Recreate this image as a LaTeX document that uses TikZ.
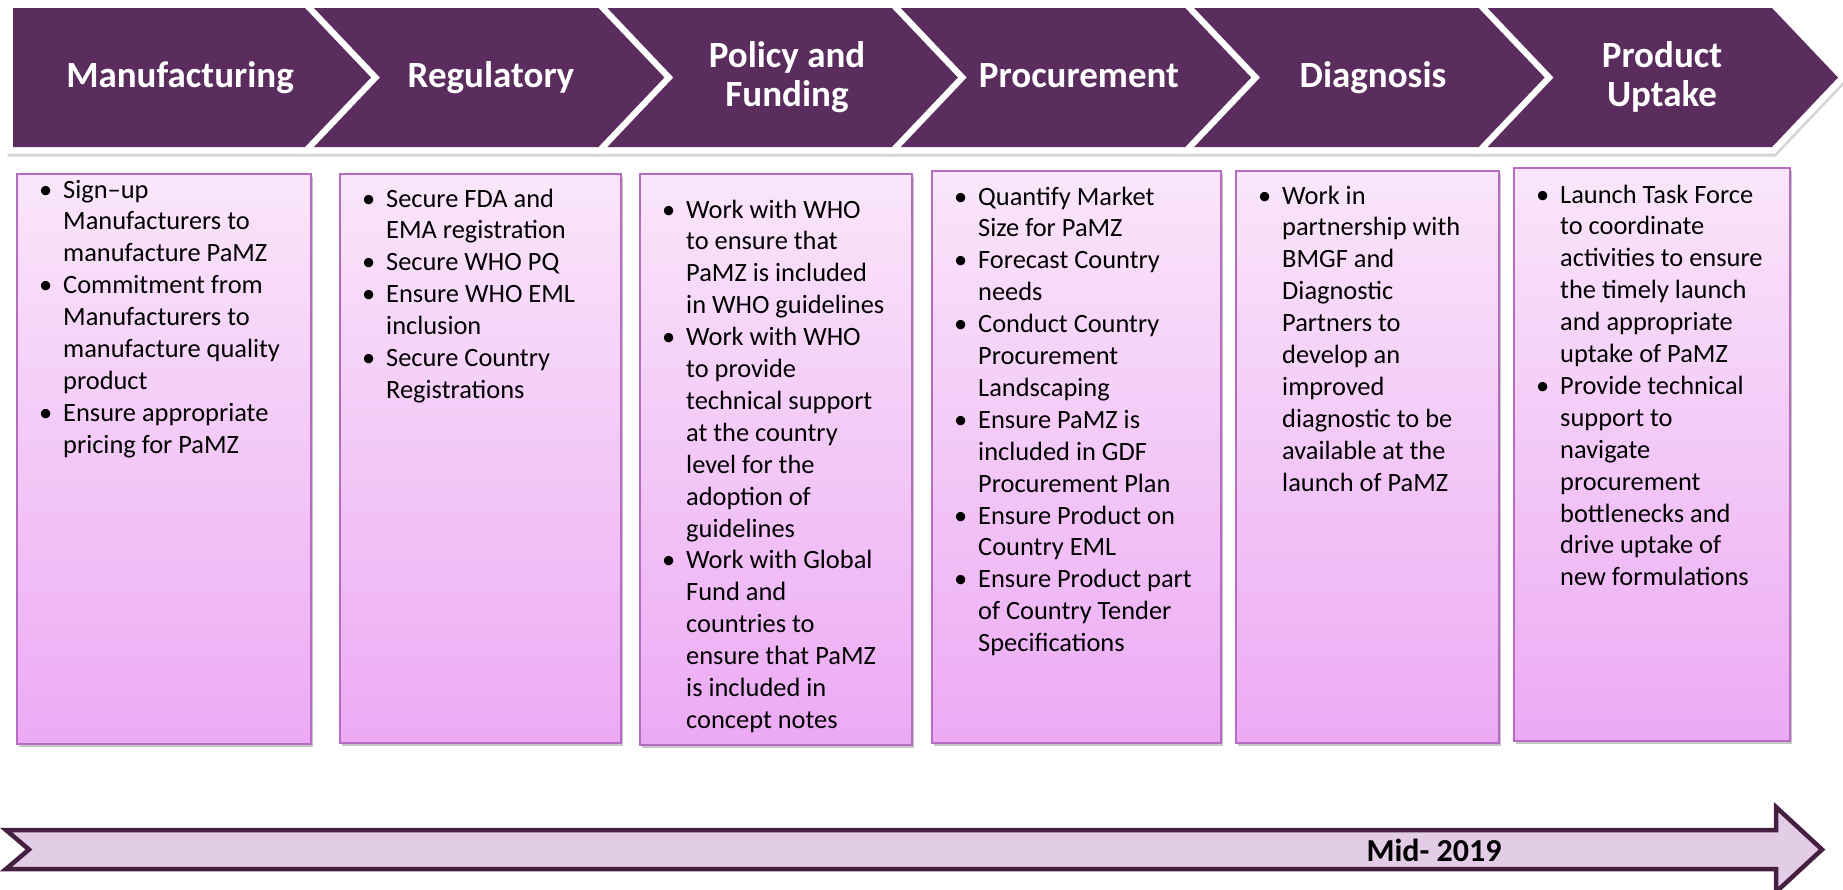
\documentclass[tikz,border=0pt]{standalone}
\usepackage{fontspec}
\setmainfont{Carlito}
\usetikzlibrary{shadows}

\definecolor{chevfill}{RGB}{91,45,94}
\definecolor{chevshade}{RGB}{214,214,214}
\definecolor{boxedge}{RGB}{182,108,194}
\definecolor{boxtop}{RGB}{250,230,250}
\definecolor{boxbot}{RGB}{236,170,244}
\definecolor{arrowedge}{RGB}{70,32,64}
\definecolor{arrowfill}{RGB}{227,204,230}

\newcommand\bl{\textbullet}
% corner abscissae of chevron #1 (0 = leftmost, flat back)
\newcommand\chevset[1]{%
  \pgfmathsetmacro\cR{305+293.4*#1}%
  \pgfmathsetmacro\cL{#1==0 ? 13 : 314+293.4*(#1-1)}%
  \pgfmathsetmacro\cN{#1==0 ? 13 : \cL+66}%
  \pgfmathsetmacro\cT{\cR+66}}

\begin{document}
\begin{tikzpicture}[x=1pt,y=-1pt,
  head/.style={anchor=base, inner sep=0pt, text=white,
    font=\fontsize{37}{39}\selectfont\bfseries},
  card/.style={anchor=north west, inner sep=0pt, draw=boxedge, line width=1.6pt,
    top color=boxtop, bottom color=boxbot,
    drop shadow={shadow xshift=2pt, shadow yshift=-3pt, fill=black, opacity=0.22}},
  btext/.style={anchor=base west, inner sep=0pt, text=black,
    font=\fontsize{26.4}{31.9}\selectfont},
]
\useasboundingbox (0,0) rectangle (1843,889);

% chevron band: shadow, white rim, purple body
\foreach \i in {0,...,5}{
  \chevset{\i}
  \draw[chevshade, line width=13pt, fill=chevshade]
    (\cL+1,11) -- (\cR+1,11) -- (\cT+1,80.5) -- (\cR+1,150) -- (\cL+1,150) -- (\cN+1,80.5) -- cycle;
}
\foreach \i in {0,...,5}{
  \chevset{\i}
  \draw[white, line width=13pt, fill=white]
    (\cL,8) -- (\cR,8) -- (\cT,77.5) -- (\cR,147) -- (\cL,147) -- (\cN,77.5) -- cycle;
}
\foreach \i in {0,...,5}{
  \chevset{\i}
  \fill[chevfill]
    (\cL,8) -- (\cR,8) -- (\cT,77.5) -- (\cR,147) -- (\cL,147) -- (\cN,77.5) -- cycle;
}

% stage headings
\node[head] (h1) at (180,87) {Manufacturing};
\node[head] (h2) at (491,87) {Regulatory};
\node[head] (h3) at (787,67) {\begin{tabular}[t]{@{}c@{}}Policy and\\Funding\end{tabular}};
\node[head] (h4) at (1079,87) {Procurement};
\node[head] (h5) at (1373,87) {Diagnosis};
\node[head] (h6) at (1662,67) {\begin{tabular}[t]{@{}c@{}}Product\\Uptake\end{tabular}};

% activity cards
\node[card, minimum width=294pt, minimum height=570pt] (b1) at (16,173) {};
\node[card, minimum width=281pt, minimum height=569pt] (b2) at (339,173) {};
\node[card, minimum width=272pt, minimum height=571pt] (b3) at (639,173) {};
\node[card, minimum width=289pt, minimum height=572pt] (b4) at (931,170) {};
\node[card, minimum width=263pt, minimum height=572pt] (b5) at (1235,170) {};
\node[card, minimum width=276pt, minimum height=573pt] (b6) at (1513,167) {};

\node[btext] (t1) at (39,198) {\begin{tabular}[t]{@{}p{24pt}@{}l@{}}
\bl & Sign–up\\
 & Manufacturers to\\
 & manufacture PaMZ\\
\bl & Commitment from\\
 & Manufacturers to\\
 & manufacture quality\\
 & product\\
\bl & Ensure appropriate\\
 & pricing for PaMZ
\end{tabular}};

\node[btext] (t2) at (362,207) {\begin{tabular}[t]{@{}p{24pt}@{}l@{}}
\bl & Secure FDA and\\
 & EMA registration\\
\bl & Secure WHO PQ\\
\bl & Ensure WHO EML\\
 & inclusion\\
\bl & Secure Country\\
 & Registrations
\end{tabular}};

\node[btext] (t3) at (662,218) {\begin{tabular}[t]{@{}p{24pt}@{}l@{}}
\bl & Work with WHO\\
 & to ensure that\\
 & PaMZ is included\\
 & in WHO guidelines\\
\bl & Work with WHO\\
 & to provide\\
 & technical support\\
 & at the country\\
 & level for the\\
 & adoption of\\
 & guidelines\\
\bl & Work with Global\\
 & Fund and\\
 & countries to\\
 & ensure that PaMZ\\
 & is included in\\
 & concept notes
\end{tabular}};

\node[btext] (t4) at (954,205) {\begin{tabular}[t]{@{}p{24pt}@{}l@{}}
\bl & Quantify Market\\
 & Size for PaMZ\\
\bl & Forecast Country\\
 & needs\\
\bl & Conduct Country\\
 & Procurement\\
 & Landscaping\\
\bl & Ensure PaMZ is\\
 & included in GDF\\
 & Procurement Plan\\
\bl & Ensure Product on\\
 & Country EML\\
\bl & Ensure Product part\\
 & of Country Tender\\
 & Specifications
\end{tabular}};

\node[btext] (t5) at (1258,204) {\begin{tabular}[t]{@{}p{24pt}@{}l@{}}
\bl & Work in\\
 & partnership with\\
 & BMGF and\\
 & Diagnostic\\
 & Partners to\\
 & develop an\\
 & improved\\
 & diagnostic to be\\
 & available at the\\
 & launch of PaMZ
\end{tabular}};

\node[btext] (t6) at (1536,203) {\begin{tabular}[t]{@{}p{24pt}@{}l@{}}
\bl & Launch Task Force\\
 & to coordinate\\
 & activities to ensure\\
 & the timely launch\\
 & and appropriate\\
 & uptake of PaMZ\\
\bl & Provide technical\\
 & support to\\
 & navigate\\
 & procurement\\
 & bottlenecks and\\
 & drive uptake of\\
 & new formulations
\end{tabular}};

% timeline arrow
\draw[arrowedge, line width=4.5pt, fill=arrowfill, line join=miter]
  (6,830) -- (1776,830) -- (1776,807) -- (1822,849.5) -- (1776,892)
  -- (1776,869) -- (6,869) -- (29,849.5) -- cycle;
\node[anchor=center, inner sep=0pt, font=\fontsize{32}{36}\selectfont\bfseries]
  (mid) at (1434,850) {Mid- 2019};
\end{tikzpicture}
\end{document}
